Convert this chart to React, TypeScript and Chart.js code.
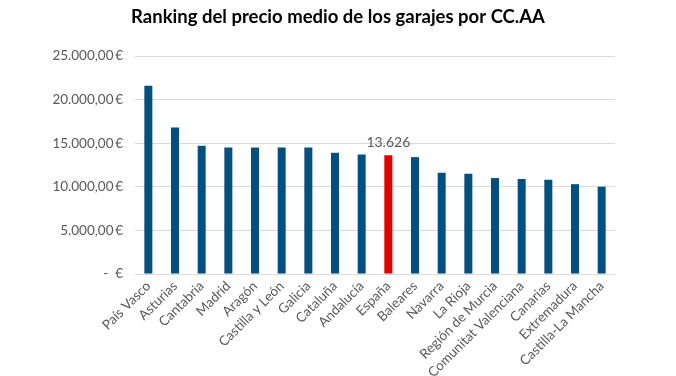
import React, { useEffect, useRef } from "react";
import { Chart, registerables } from "chart.js";

Chart.register(...registerables);

const categories = [
  "País Vasco", "Asturias", "Cantabria", "Madrid", "Aragón", "Castilla y León",
  "Galicia", "Cataluña", "Andalucía", "España", "Baleares", "Navarra", "La Rioja",
  "Región de Murcia", "Comunitat Valenciana", "Canarias", "Extremadura", "Castilla-La Mancha",
];
const prices = [
  21600, 16800, 14700, 14500, 14500, 14500, 14500, 13900, 13700, 13626,
  13400, 11600, 11500, 11000, 10900, 10800, 10300, 10000,
];
const highlightLabel = "España";
const highlightText = "13.626";
const yTickLabels: Record<number, string> = {
  0: "-  €",
  5000: "5.000,00\u2009€",
  10000: "10.000,00\u2009€",
  15000: "15.000,00\u2009€",
  20000: "20.000,00\u2009€",
  25000: "25.000,00\u2009€",
};
const title = "Ranking del precio medio de los garajes por CC.AA";

const NAVY = "#034F80";
const RED = "#E30000";
const GREY = "#595959";

export default function App() {
  const ref = useRef<HTMLCanvasElement | null>(null);
  useEffect(() => {
    document.body.style.margin = "0";
    const canvas = ref.current!;
    const titlePlugin = {
      id: "customTitle",
      afterDraw(chart: any) {
        const ctx = chart.ctx;
        ctx.save();
        ctx.font = "bold 18.5px Lato";
        ctx.fillStyle = "#000";
        ctx.textAlign = "center";
        ctx.textBaseline = "middle";
        ctx.fillText(title, 338, 17);
        ctx.restore();
      },
    };
    const labelPlugin = {
      id: "hlLabel",
      afterDatasetsDraw(chart: any) {
        const idx = categories.indexOf(highlightLabel);
        const el = chart.getDatasetMeta(0).data[idx];
        if (!el) return;
        const ctx = chart.ctx;
        ctx.save();
        ctx.font = "14px Lato";
        ctx.fillStyle = GREY;
        ctx.textAlign = "center";
        ctx.textBaseline = "bottom";
        ctx.fillText(highlightText, el.x, el.y - 6);
        ctx.restore();
      },
    };
    const chart = new Chart(canvas, {
      type: "bar",
      data: {
        labels: categories,
        datasets: [
          {
            data: prices,
            backgroundColor: categories.map((c) => (c === highlightLabel ? RED : NAVY)),
            categoryPercentage: 1,
            barPercentage: 0.3,
          },
        ],
      },
      options: {
        animation: false,
        responsive: false,
        maintainAspectRatio: false,
        layout: { padding: { top: 56, right: 61, left: 0, bottom: 0 } },
        plugins: {
          legend: { display: false },
          tooltip: { enabled: false },
          title: { display: false },
        },
        scales: {
          x: {
            grid: { display: false, drawTicks: false },
            border: { display: false },
            ticks: {
              color: GREY,
              font: { family: "Lato", size: 13.5 },
              minRotation: 45,
              maxRotation: 45,
              autoSkip: false,
              padding: 4,
            },
            afterFit(scale: any) {
              scale.height = 102;
            },
          },
          y: {
            min: 0,
            max: 25000,
            grid: { color: "#D9D9D9", drawTicks: false, lineWidth: 1 },
            border: { display: false },
            ticks: {
              stepSize: 5000,
              color: GREY,
              font: { family: "Lato", size: 13.5 },
              padding: 12,
              callback: (v: any) => yTickLabels[v as number] ?? "",
            },
            afterFit(scale: any) {
              scale.width = 135;
            },
          },
        },
      },
      plugins: [titlePlugin, labelPlugin],
    });
    return () => chart.destroy();
  }, []);
  return (
    <div style={{ width: 676, height: 376 }}>
      <canvas ref={ref} width={676} height={376} style={{ width: 676, height: 376 }} />
    </div>
  );
}
